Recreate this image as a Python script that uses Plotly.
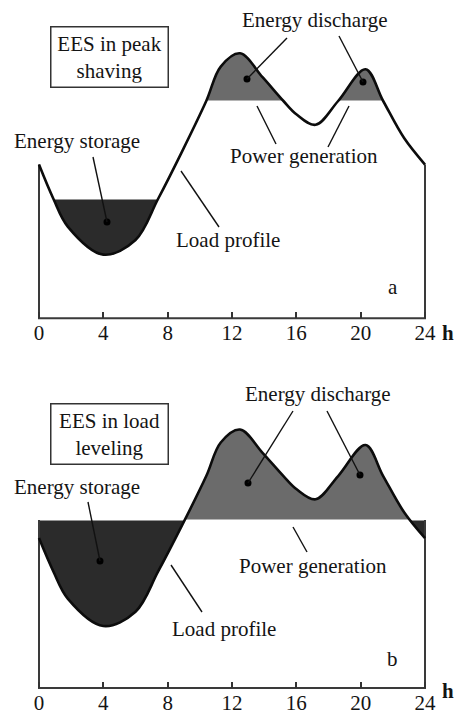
import plotly.graph_objects as go

# ---- data ----
hours = [0, 0.9, 1.8, 4.0, 6.0, 7.4, 8.9, 10.4, 11.3, 12.5, 13.9, 15.2, 16.0, 17.2, 18.6, 20.3, 21.4, 22.7, 24]
load = [58, 45, 34.5, 24, 29.5, 45, 63, 82, 95, 100, 91, 82, 77, 73, 82, 94, 82, 68, 58]
tick_hours = [0, 4, 8, 12, 16, 20, 24]
tick_labels = ["0", "4", "8", "12", "16", "20", "24"]

# peak shaving levels (panel a) and load levelling level (panel b)
storage_level_a = 45
discharge_level_a = 82
level_b = 65

W, H = 455, 714
X0PX, PXH = 39, 16.083
FONT = "Liberation Serif"
FS = 21
DARK = "#2b2b2b"
GRAY = "#6b6b6b"
INK = "#141414"
NONE = "rgba(0,0,0,0)"


def px_x(h):
    return (X0PX + h * PXH) / W


XDOM = [px_x(-0.5), px_x(24.5)]
XR = [-0.5, 24.5]

# scales chosen so that the fill levels fall on whole pixels (crisp clipping)
sa = (199 - 101) / (discharge_level_a - storage_level_a)
sb = 168 / level_b
panels = [
    dict(base=199 + storage_level_a * sa, scale=sa, top_px=6, lo=storage_level_a, hi=discharge_level_a,
         title="EES in peak<br>shaving", letter="a", ids=(1, 2, 3)),
    dict(base=520 + level_b * sb, scale=sb, top_px=372, lo=level_b, hi=level_b,
         title="EES in load<br>leveling", letter="b", ids=(4, 5, 6)),
]

fig = go.Figure()
layout = dict(width=W, height=H, margin=dict(l=0, r=0, t=0, b=0, autoexpand=False),
              paper_bgcolor="white", plot_bgcolor=NONE,
              showlegend=False, font=dict(family=FONT, size=FS, color=INK))
annotations = []
shapes = []


def ax_name(kind, i):
    return kind + ("" if i == 1 else str(i))


for p in panels:
    base, sc = p["base"], p["scale"]
    top = (base - p["top_px"]) / sc

    def py(v, base=base, sc=sc):
        return 1 - (base - v * sc) / H

    i_dark, i_gray, i_main = p["ids"]
    specs = {
        i_dark: ([py(-1), py(p["lo"])], [-1, p["lo"]]),
        i_gray: ([py(p["hi"]), py(top)], [p["hi"], top]),
        i_main: ([py(-1), py(top)], [-1, top]),
    }
    for i, (dom, rng) in specs.items():
        xa = dict(domain=XDOM, range=XR, anchor=ax_name("y", i), visible=False,
                  showgrid=False, zeroline=False, fixedrange=True, automargin=False)
        if i == i_main:
            xa.update(visible=True, anchor="free", position=py(0), showline=False,
                      ticks="inside", ticklen=6, tickwidth=1.5, tickcolor="#333",
                      tickvals=tick_hours, ticktext=tick_labels,
                      tickfont=dict(family=FONT, size=FS, color=INK))
        layout["xaxis" + ("" if i == 1 else str(i))] = xa
        layout["yaxis" + ("" if i == 1 else str(i))] = dict(
            domain=dom, range=rng, anchor=ax_name("x", i), visible=False,
            showgrid=False, zeroline=False, fixedrange=True, automargin=False)

    xd, yd = ax_name("x", i_dark), ax_name("y", i_dark)
    xg, yg = ax_name("x", i_gray), ax_name("y", i_gray)
    xm, ym = ax_name("x", i_main), ax_name("y", i_main)

    # dark: energy storage (below the lower level), clipped by its subplot
    fig.add_trace(go.Scatter(x=[hours[0], hours[-1]], y=[p["lo"], p["lo"]], mode="lines",
                             line=dict(width=0, color=NONE), xaxis=xd, yaxis=yd, hoverinfo="skip"))
    fig.add_trace(go.Scatter(x=hours, y=load, mode="lines", line=dict(width=0, shape="spline", color=NONE),
                             fill="tonexty", fillcolor=DARK, xaxis=xd, yaxis=yd, hoverinfo="skip"))
    # gray: energy discharge (above the upper level)
    fig.add_trace(go.Scatter(x=[hours[0], hours[-1]], y=[p["hi"], p["hi"]], mode="lines",
                             line=dict(width=0, color=NONE), xaxis=xg, yaxis=yg, hoverinfo="skip"))
    fig.add_trace(go.Scatter(x=hours, y=load, mode="lines", line=dict(width=0, shape="spline", color=NONE),
                             fill="tonexty", fillcolor=GRAY, xaxis=xg, yaxis=yg, hoverinfo="skip"))

    # white hairlines hide anti-aliasing seams at the clip edges
    for lv in sorted({p["lo"], p["hi"]}):
        fig.add_trace(go.Scatter(x=[hours[0], hours[-1]], y=[lv, lv], mode="lines",
                                 line=dict(width=1.1, color="white"), xaxis=xm, yaxis=ym, hoverinfo="skip"))

    # frame: verticals and baseline
    if p["letter"] == "a":
        fy0, fy1 = load[0], load[-1]
    else:
        fy0, fy1 = level_b, level_b
    fig.add_trace(go.Scatter(x=[hours[0], hours[0], hours[-1], hours[-1]], y=[fy0, 0, 0, fy1],
                             mode="lines", line=dict(width=2, color="#3a3a3a"),
                             xaxis=xm, yaxis=ym, hoverinfo="skip"))
    # load profile
    fig.add_trace(go.Scatter(x=hours, y=load, mode="lines",
                             line=dict(width=2.6, shape="spline", color="#0c0c0c"),
                             xaxis=xm, yaxis=ym, hoverinfo="skip"))

    def hx(px):
        return (px - X0PX) / PXH

    def ly(pyy, base=base, sc=sc):
        return (base - pyy) / sc

    if p["letter"] == "a":
        texts = [("Energy discharge", 315, 20), ("Energy storage", 77, 141),
                 ("Power generation", 304, 156), ("Load profile", 228, 240), ("a", 393, 287)]
        box = (110, 57)
        leaders = [((93, 157), (107, 222), True), ((181, 171), (219, 227), False),
                   ((287, 38), (247, 79), True), ((339, 36), (363, 82), True),
                   ((257, 106), (276, 144), False), ((349, 106), (328, 147), False)]
        hy = 333
    else:
        texts = [("Energy discharge", 318, 394), ("Energy storage", 77, 487),
                 ("Power generation", 313, 566), ("Load profile", 224, 629), ("b", 393, 659)]
        box = (110, 434)
        leaders = [((88, 502), (100, 561), True), ((171, 565), (202, 612), False),
                   ((293, 411), (248, 483), True), ((327, 411), (360, 475), True),
                   ((293, 527), (307, 552), False)]
        hy = 705

    for t, tx, ty in texts:
        annotations.append(dict(text=t, x=hx(tx), y=ly(ty), xref=xm, yref=ym, showarrow=False,
                                font=dict(family=FONT, size=FS, color=INK)))
    annotations.append(dict(text=p["title"], x=hx(box[0]), y=ly(box[1]), xref=xm, yref=ym,
                            showarrow=False, bordercolor="#333", borderwidth=1.5, borderpad=4,
                            width=108, bgcolor="white", font=dict(family=FONT, size=FS, color=INK)))
    annotations.append(dict(text="<b>h</b>", x=440 / W, y=1 - hy / H, xref="paper", yref="paper",
                            xanchor="left", showarrow=False, font=dict(family=FONT, size=FS, color=INK)))
    dots_x, dots_y = [], []
    for (a, b, dot) in leaders:
        shapes.append(dict(type="line", xref=xm, yref=ym, x0=hx(a[0]), y0=ly(a[1]),
                           x1=hx(b[0]), y1=ly(b[1]), line=dict(color="#111", width=1.4)))
        if dot:
            dots_x.append(hx(b[0]))
            dots_y.append(ly(b[1]))
    fig.add_trace(go.Scatter(x=dots_x, y=dots_y, mode="markers", marker=dict(size=7, color="#000"),
                             xaxis=xm, yaxis=ym, hoverinfo="skip"))

layout["annotations"] = annotations
layout["shapes"] = shapes
fig.update_layout(**layout)
fig.write_html("out.html", config={"displayModeBar": False},
               post_script="document.body.style.margin='0';document.body.style.overflow='hidden';")
